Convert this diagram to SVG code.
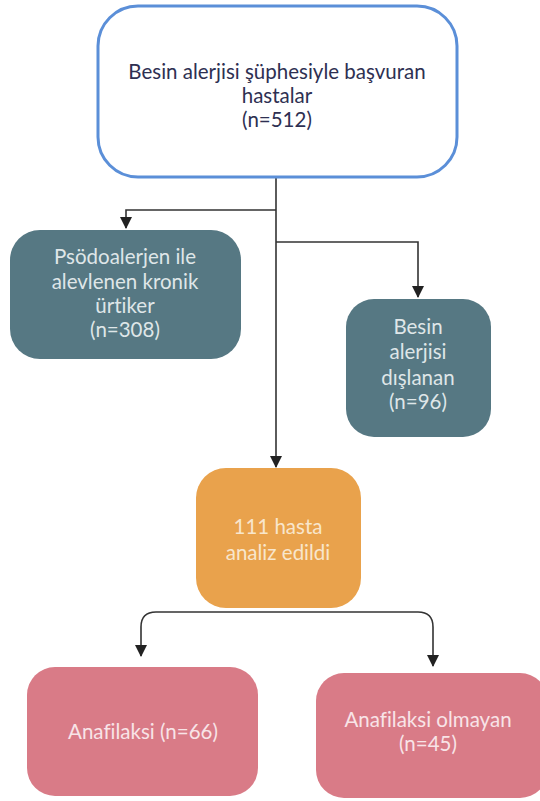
<svg xmlns="http://www.w3.org/2000/svg" width="540" height="801" viewBox="0 0 540 801">
<style>
text{font-family:Lato,"Open Sans","Liberation Sans",sans-serif;font-size:20.5px;text-anchor:middle;font-variant-ligatures:none}
.dark{fill:#2e3052}
.light{fill:#dfe6e8}
.cream{fill:#f8e6cc}
.pinkt{fill:#f8e4e7}
.teal{fill:#567883}
.conn{fill:none;stroke:#333;stroke-width:1.6}
</style>
<defs>
<marker id="ah" viewBox="0 0 12 12" refX="11" refY="6" markerWidth="12" markerHeight="12" markerUnits="userSpaceOnUse" orient="auto">
<path d="M0,0 L12,6 L0,12 Z" fill="#222"/>
</marker>
</defs>
<rect width="540" height="801" fill="#fff"/>
<g id="connectors">
<path class="conn" d="M276,178 V467" marker-end="url(#ah)"/>
<path class="conn" d="M276,210 H126 V228" marker-end="url(#ah)"/>
<path class="conn" d="M276,242 H418 V297" marker-end="url(#ah)"/>
<path class="conn" d="M278,612 H156 Q141,612 141,627 V656" marker-end="url(#ah)"/>
<path class="conn" d="M278,612 H418 Q433,612 433,627 V666" marker-end="url(#ah)"/>
</g>
<g id="n-top">
<rect x="98" y="6" width="359" height="171" rx="40" fill="#fff" stroke="#5b8fd8" stroke-width="3"/>
<text class="dark" x="277" y="79">Besin alerjisi şüphesiyle başvuran</text>
<text class="dark" x="277" y="103">hastalar</text>
<text class="dark" x="277" y="127">(n=512)</text>
</g>
<g id="n-psodo">
<rect class="teal" x="10" y="230" width="231" height="129" rx="30"/>
<text class="light" x="125" y="264">Psödoalerjen ile</text>
<text class="light" x="125" y="289">alevlenen kronik</text>
<text class="light" x="125" y="313">ürtiker</text>
<text class="light" x="125" y="337">(n=308)</text>
</g>
<g id="n-excluded">
<rect class="teal" x="346" y="299" width="145" height="138" rx="28"/>
<text class="light" x="418" y="334">Besin</text>
<text class="light" x="418" y="359">alerjisi</text>
<text class="light" x="418" y="385">dışlanan</text>
<text class="light" x="418" y="409">(n=96)</text>
</g>
<g id="n-analyzed">
<rect x="196" y="468" width="165" height="140" rx="30" fill="#e9a24c"/>
<text class="cream" x="278" y="534">111 hasta</text>
<text class="cream" x="278" y="560">analiz edildi</text>
</g>
<g id="n-anaf">
<rect x="27" y="667" width="231" height="129" rx="28" fill="#d97b87"/>
<text class="pinkt" x="143" y="739">Anafilaksi (n=66)</text>
</g>
<g id="n-noanaf">
<rect x="316" y="673" width="232" height="125" rx="28" fill="#d97b87"/>
<text class="pinkt" x="428" y="727">Anafilaksi olmayan</text>
<text class="pinkt" x="428" y="751">(n=45)</text>
</g>
</svg>
